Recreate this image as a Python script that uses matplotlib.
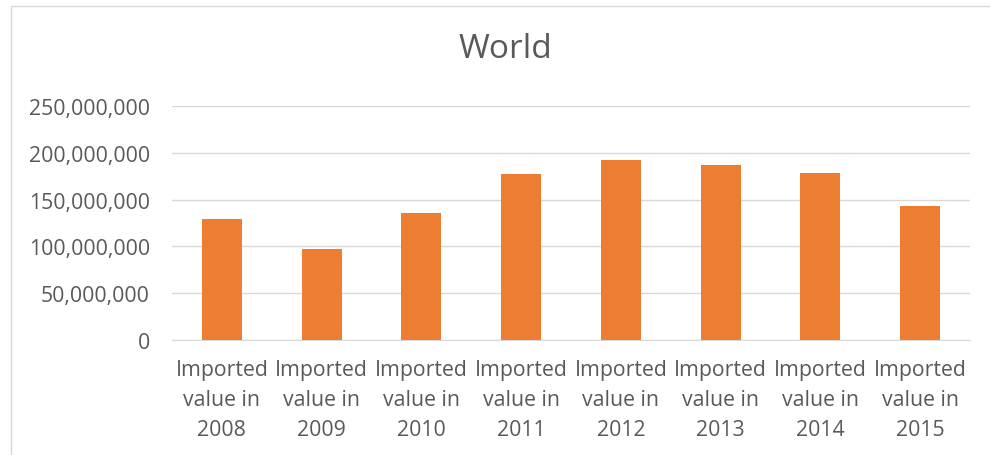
import matplotlib.pyplot as plt
from matplotlib.patches import Rectangle
from matplotlib.ticker import FuncFormatter

years = ["2008", "2009", "2010", "2011", "2012", "2013", "2014", "2015"]
values = [129200000, 97100000, 136000000, 177700000, 192000000, 187000000, 178800000, 143000000]
labels = ["Imported\nvalue in\n" + y for y in years]

plt.rcParams["font.family"] = ["Open Sans", "DejaVu Sans"]
text_color = "#595959"

fig = plt.figure(figsize=(9.9, 4.56), dpi=100)
fig.patches.append(Rectangle((11 / 990, -0.1), 1.2, 1 - 7 / 456 + 0.1, transform=fig.transFigure,
                             fill=False, edgecolor="#d9d9d9", linewidth=1))
ax = fig.add_axes([172 / 990, (456 - 341) / 456, 798 / 990, 234 / 456])

x = range(len(years))
ax.bar(x, values, width=0.4, color="#ED7D31", zorder=3)
ax.set_xlim(-0.5, len(years) - 0.5)
ax.set_ylim(0, 250000000)
ax.set_yticks(range(0, 250000001, 50000000))
ax.yaxis.set_major_formatter(FuncFormatter(lambda v, p: f"{int(v):,}"))
ax.set_xticks(list(x))
ax.set_xticklabels(labels, linespacing=1.55)

ax.grid(axis="y", color="#d9d9d9", linewidth=1, zorder=0)
for s in ["top", "right", "left"]:
    ax.spines[s].set_visible(False)
ax.spines["bottom"].set_color("#d9d9d9")
ax.tick_params(axis="both", length=0, colors=text_color, labelsize=15.3)
ax.tick_params(axis="y", pad=16)
ax.tick_params(axis="x", pad=14)

fig.text(505 / 990, 1 - 50 / 456, "World", ha="center", va="center", fontsize=24, color=text_color)

fig.savefig("out.png", dpi=100)
